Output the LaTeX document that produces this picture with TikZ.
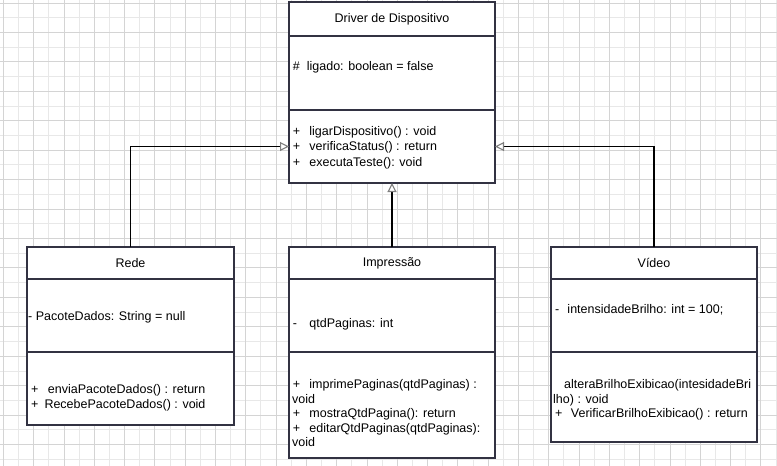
\documentclass[tikz,border=0pt]{standalone}
\usepackage{fontspec}
\setmainfont{Liberation Sans}
\usetikzlibrary{positioning,arrows.meta}
\definecolor{umlline}{RGB}{50,50,66}
\definecolor{gridmajor}{RGB}{212,212,212}
\definecolor{gridminor}{RGB}{232,232,232}
\newcommand{\vis}[2][16.5pt]{\makebox[#1][l]{#2}}
\tikzset{
  classpart/.style={draw=umlline, line width=1.2pt, fill=white, inner sep=0pt, outer sep=0pt, font=\fontsize{12.5}{15}\selectfont},
  member/.style={anchor=base west, inner sep=0pt, font=\fontsize{12.5}{15}\selectfont},
  inherit/.style={line width=1.1pt, -{Triangle[open,length=9pt,width=9pt,color=gray]}}
}

\begin{document}
\begin{tikzpicture}[x=1pt,y=-1pt]
\fill[white] (0,0) rectangle (777,466);
\useasboundingbox (0,0) rectangle (777,466);
\foreach \i in {1,3,...,51}
\draw[gridminor, line width=0.8pt] (3.3+15.15*\i,0) -- (3.3+15.15*\i,466);
\foreach \j in {1,3,...,31}
\draw[gridminor, line width=0.8pt] (0,2.9+14.72*\j) -- (777,2.9+14.72*\j);
\foreach \i in {0,2,...,50}
\draw[gridmajor, line width=0.8pt] (3.3+15.15*\i,0) -- (3.3+15.15*\i,466);
\foreach \j in {0,2,...,30}
\draw[gridmajor, line width=0.8pt] (0,2.9+14.72*\j) -- (777,2.9+14.72*\j);

\node[classpart, anchor=north west, minimum width=206pt, minimum height=34pt] (driver-title) at (289,2) {Driver de Dispositivo};
\node[classpart, minimum width=206pt, minimum height=74pt, below=0pt of driver-title] (driver-attrs) {};
\node[classpart, minimum width=206pt, minimum height=73pt, below=0pt of driver-attrs] (driver-methods) {};

\node[classpart, anchor=north west, minimum width=207pt, minimum height=32pt] (rede-title) at (27,247) {Rede};
\node[classpart, minimum width=207pt, minimum height=73pt, below=0pt of rede-title] (rede-attrs) {};
\node[classpart, minimum width=207pt, minimum height=73pt, below=0pt of rede-attrs] (rede-methods) {};

\node[classpart, anchor=north west, minimum width=206pt, minimum height=32pt] (impr-title) at (289,247) {Impressão};
\node[classpart, minimum width=206pt, minimum height=73pt, below=0pt of impr-title] (impr-attrs) {};
\node[classpart, minimum width=206pt, minimum height=106pt, below=0pt of impr-attrs] (impr-methods) {};

\node[classpart, anchor=north west, minimum width=206pt, minimum height=32pt] (video-title) at (551,247) {Vídeo};
\node[classpart, minimum width=206pt, minimum height=73pt, below=0pt of video-title] (video-attrs) {};
\node[classpart, minimum width=206pt, minimum height=90pt, below=0pt of video-attrs] (video-methods) {};

\node[member] (driver-a1) at (292.7,70.7) {\vis[14pt]{\#}ligado: boolean = false};
\node[member] (driver-m1) at (292.7,135) {\vis{+}ligarDispositivo() : void};
\node[member] (driver-m2) at (292.7,150.7) {\vis{+}verificaStatus() : return};
\node[member] (driver-m3) at (292.7,166.7) {\vis{+}executaTeste(): void};

\node[member] (rede-a1) at (28,320) {- PacoteDados: String = null};
\node[member] (rede-m1) at (31,393) {\vis[16.7pt]{+}enviaPacoteDados() : return};
\node[member] (rede-m2) at (31,408) {\vis[13.3pt]{+}RecebePacoteDados() : void};

\node[member] (impr-a1) at (292.7,327.3) {\vis{-}qtdPaginas: int};
\node[member] (impr-m1) at (292.7,388.5) {\vis{+}imprimePaginas(qtdPaginas) :};
\node[member] (impr-m1b) at (292,403) {void};
\node[member] (impr-m2) at (292.7,417.5) {\vis{+}mostraQtdPagina(): return};
\node[member] (impr-m3) at (292.7,432.5) {\vis{+}editarQtdPaginas(qtdPaginas):};
\node[member] (impr-m3b) at (292,446.5) {void};

\node[member] (video-a1) at (555,313) {\vis[12.3pt]{-}intensidadeBrilho: int = 100;};
\node[member] (video-m1) at (564,388.5) {alteraBrilhoExibicao(intesidadeBri};
\node[member] (video-m1b) at (553,403) {lho) : void};
\node[member] (video-m2) at (555,417.5) {\vis[15.7pt]{+}VerificarBrilhoExibicao() : return};

\draw[inherit] (rede-title.north) |- (driver-methods.west);
\draw[inherit] (video-title.north) |- (driver-methods.east);
\draw[inherit] (impr-title.north) -- (driver-methods.south);
\end{tikzpicture}
\end{document}
